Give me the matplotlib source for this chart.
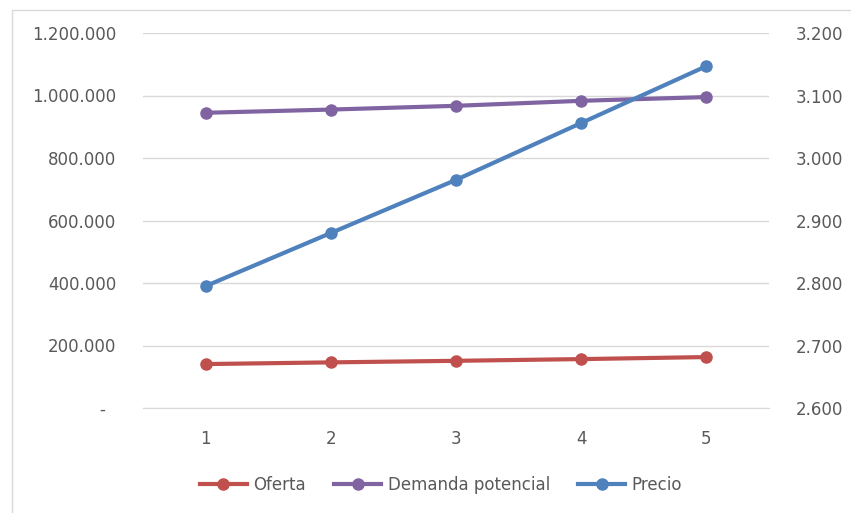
import matplotlib.pyplot as plt
from matplotlib.patches import Rectangle
from matplotlib.ticker import FuncFormatter

plt.rcParams['font.family'] = ['DejaVu Sans']

periodos = [1, 2, 3, 4, 5]
oferta = [140600, 146000, 151000, 156500, 163000]
demanda = [944700, 955000, 967000, 983000, 995000]
precio = [2795, 2880, 2965, 3056, 3147]

rojo = '#C0504D'
morado = '#8064A2'
azul = '#4F81BD'
gris_texto = '#595959'


def miles(v, pos):
    if abs(v) < 1e-9:
        return '-  '
    return f'{v:,.0f}'.replace(',', '.')


fig = plt.figure(figsize=(8.51, 5.13), dpi=100)
fig.patches.append(Rectangle((12 / 851, -0.1), 1.0, 1 - 10 / 513 + 0.1,
                             transform=fig.transFigure, fill=False,
                             edgecolor='#D9D9D9', linewidth=1))

ax = fig.add_axes([143 / 851, 1 - 408 / 513, 626 / 851, 375 / 513])
ax2 = ax.twinx()

l1, = ax.plot(periodos, oferta, color=rojo, lw=3, marker='o', ms=8, label='Oferta')
l2, = ax.plot(periodos, demanda, color=morado, lw=3, marker='o', ms=8, label='Demanda potencial')
l3, = ax2.plot(periodos, precio, color=azul, lw=3, marker='o', ms=8, label='Precio')

ax.set_xlim(0.5, 5.5)
ax.set_ylim(0, 1200000)
ax.set_yticks(range(0, 1200001, 200000))
ax.yaxis.set_major_formatter(FuncFormatter(miles))
ax2.set_ylim(2600, 3200)
ax2.set_yticks(range(2600, 3201, 100))
ax2.yaxis.set_major_formatter(FuncFormatter(miles))
ax.set_xticks(periodos)

ax.grid(axis='y', color='#D9D9D9', lw=1)
ax.set_axisbelow(True)
for a in (ax, ax2):
    for s in a.spines.values():
        s.set_visible(False)
    a.tick_params(length=0, labelsize=12, labelcolor=gris_texto)
ax.tick_params(axis='y', pad=19)
ax.tick_params(axis='x', pad=16)
ax2.tick_params(axis='y', pad=19)
ax.spines['bottom'].set_visible(True)
ax.spines['bottom'].set_color('#D9D9D9')

fig.legend(handles=[l1, l2, l3], loc='center', bbox_to_anchor=(441 / 851, 1 - 485 / 513),
           ncol=3, frameon=False, fontsize=12, labelcolor=gris_texto,
           handlelength=2.8, handletextpad=0.4, columnspacing=1.7)

fig.savefig('out.png', dpi=100)
